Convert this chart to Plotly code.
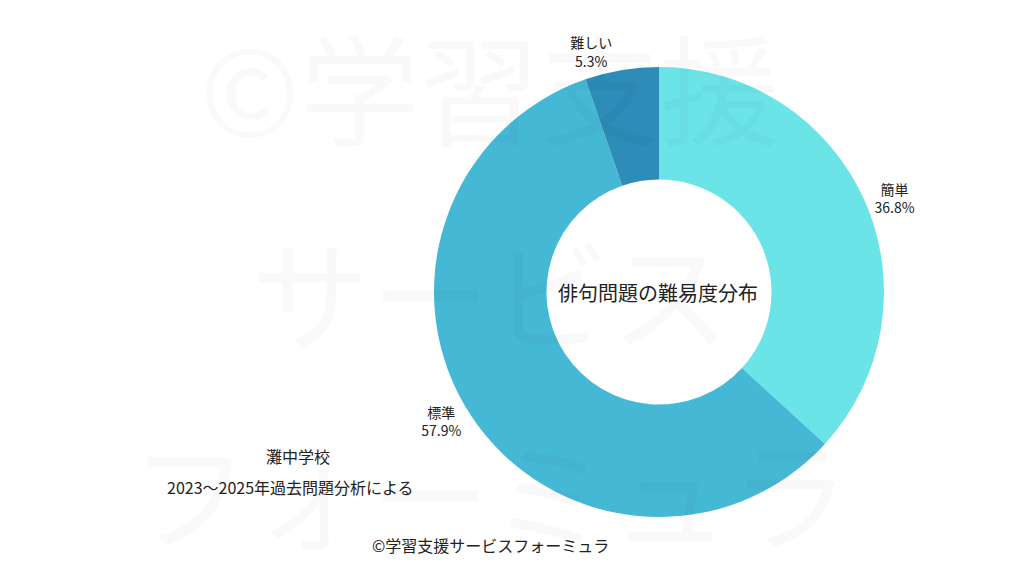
import plotly.graph_objects as go

labels = ["簡単", "標準", "難しい"]
values = [36.8, 57.9, 5.3]
colors = ["#6BE4E8", "#45B8D5", "#2E8CB8"]

W, H = 1024, 576
cx, cy, r = 651, 284, 225
fig = go.Figure(go.Pie(
    labels=labels, values=values, hole=0.5, sort=False, direction="clockwise",
    rotation=0, marker=dict(colors=colors),
    texttemplate="%{label}<br>%{value:.1f}%", textposition="outside",
    textfont=dict(size=14, color="#222", family="Noto Sans CJK JP"),
    domain=dict(x=[(cx - r) / W, (cx + r) / W], y=[(H - cy - r) / H, (H - cy + r) / H]),
    showlegend=False,
))
ann = []
def a(text, x, y, size, color="#222"):
    x, y = x - 8, y - 8
    ann.append(dict(text=text, x=x / W, y=1 - y / H, xref="paper", yref="paper",
                    xanchor="center", yanchor="middle",
                    showarrow=False, font=dict(size=size, color=color, family="Noto Sans CJK JP")))
for t, y in [("©学習支援", 85), ("サービス", 290), ("フォーミュラ", 490)]:
    a(t, 490, y, 120, "rgba(0,0,0,0.025)")
a("俳句問題の難易度分布", 658, 292, 20)
a("灘中学校", 298, 456, 16)
a("2023〜2025年過去問題分析による", 290, 487, 16)
a("©学習支援サービスフォーミュラ", 490, 545, 16)
fig.update_layout(width=W, height=H, margin=dict(l=0, r=0, t=0, b=0),
                  paper_bgcolor="white", annotations=ann)
fig.write_html("out.html")
